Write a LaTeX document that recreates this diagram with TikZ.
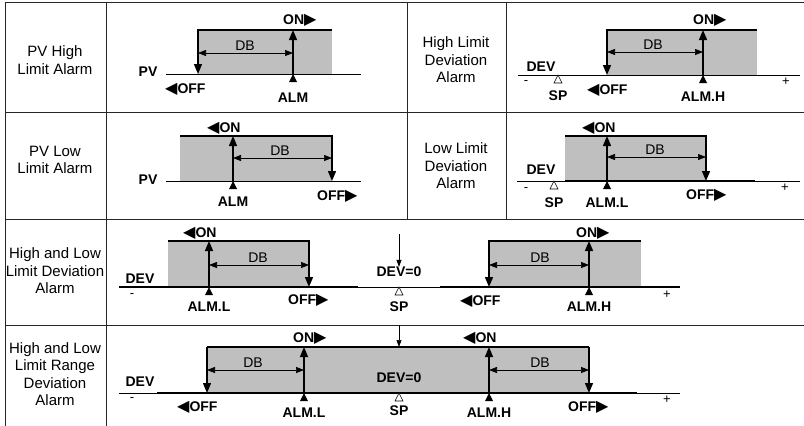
\documentclass[tikz,border=0pt]{standalone}
\usepackage{fontspec}
\setmainfont{Liberation Sans}
\newfontfamily\symfont{DejaVu Sans}
\usetikzlibrary{arrows.meta}
\newcommand\arrR{{\symfont\fontsize{16}{16}\selectfont ▶}}
\newcommand\arrL{{\symfont\fontsize{16}{16}\selectfont ◀}}

\begin{document}
\begin{tikzpicture}[x=1pt,y=-1pt,
  grid/.style={line width=0.9pt,black!85},
  axis/.style={line width=0.9pt},
  curve/.style={line width=1.5pt},
  hyst/.style={line width=1.4pt,-{Triangle[length=10pt,width=8pt]}},
  dbarrow/.style={line width=0.7pt,{Triangle[length=8pt,width=6pt]}-{Triangle[length=8pt,width=6pt]}},
  zeroarrow/.style={line width=0.6pt,-{Triangle[length=7pt,width=5pt]}},
  band/.style={fill=black!25},
  almmark/.style={fill=black},
  spmark/.style={draw,fill=white,line width=0.6pt},
  rowlbl/.style={font=\fontsize{15}{17.5}\selectfont,align=center,inner sep=0pt},
  tag/.style={font=\bfseries\fontsize{14}{14}\selectfont,inner sep=0pt},
  dbtxt/.style={font=\fontsize{14}{14}\selectfont,inner sep=0pt},
  sgn/.style={font=\fontsize{13}{13}\selectfont,inner sep=0pt}]
\useasboundingbox (0,0) rectangle (804,426);

% table
\draw[grid] (5,2) -- (804,2);
\draw[grid] (5,112) -- (804,112);
\draw[grid] (5,219) -- (804,219);
\draw[grid] (5,325) -- (804,325);
\draw[grid] (5,2) -- (5,426);
\draw[grid] (106,2) -- (106,426);
\draw[grid] (407,2) -- (407,219);
\draw[grid] (506,2) -- (506,219);

\node[rowlbl] (lblpvh) at (55,60) {PV High\\Limit Alarm};
\node[rowlbl] (lbldevh) at (456,60) {High Limit\\Deviation\\Alarm};
\node[rowlbl] (lblpvl) at (55,160) {PV Low\\Limit Alarm};
\node[rowlbl] (lbldevl) at (456,166) {Low Limit\\Deviation\\Alarm};
\node[rowlbl] (lblhl) at (55,271) {High and Low\\Limit Deviation\\Alarm};
\node[rowlbl] (lblrange) at (55,374) {High and Low\\Limit Range\\Deviation\\Alarm};

% PV high limit
\fill[band] (198,30) rectangle (332,74);
\draw[axis] (166,74) -- (361,74);
\draw[hyst] (332,30) -- (198,30) -- (198,74);
\draw[hyst] (293,74) -- (293,30);
\fill[almmark] (293,74) -- ++(-4,8) -- ++(8,0) -- cycle;
\draw[dbarrow] (198,53) -- (293,53);
\node[dbtxt] (db1) at (245,46) {DB};
\node[tag] (pv1) at (148,72) {PV};
\node[tag,anchor=west] (on1) at (283,20) {ON\arrR};
\node[tag,anchor=west] (off1) at (165,89) {\arrL OFF};
\node[tag] (alm1) at (293,98) {ALM};

% high limit deviation
\fill[band] (607,30) rectangle (757,75);
\draw[axis] (518,75) -- (800,75);
\draw[hyst] (757,30) -- (607,30) -- (607,75);
\draw[hyst] (703,75) -- (703,30);
\fill[almmark] (703,75) -- ++(-4,8) -- ++(8,0) -- cycle;
\draw[spmark] (558,75) -- ++(-4,8) -- ++(8,0) -- cycle;
\draw[dbarrow] (607,52) -- (703,52);
\node[dbtxt] (db2) at (653,45) {DB};
\node[tag] (dev2) at (541,67) {DEV};
\node[sgn] (minus2) at (526,83) {-};
\node[sgn] (plus2) at (786,82) {+};
\node[tag] (sp2) at (558,96) {SP};
\node[tag,anchor=west] (off2) at (587,90) {\arrL OFF};
\node[tag,anchor=west] (on2) at (693,20) {ON\arrR};
\node[tag] (alm2) at (703,97) {ALM.H};

% PV low limit
\fill[band] (180,136) rectangle (332,181);
\draw[axis] (166,181) -- (361,181);
\draw[hyst] (180,136) -- (332,136) -- (332,181);
\draw[hyst] (233,181) -- (233,136);
\fill[almmark] (233,181) -- ++(-4,8) -- ++(8,0) -- cycle;
\draw[dbarrow] (233,158) -- (332,158);
\node[dbtxt] (db3) at (280,151) {DB};
\node[tag] (pv3) at (148,180) {PV};
\node[tag,anchor=west] (on3) at (207,128) {\arrL ON};
\node[tag,anchor=west] (off3) at (317,196) {OFF\arrR};
\node[tag] (alm3) at (233,202) {ALM};

% low limit deviation
\fill[band] (565,136) rectangle (706,181);
\draw[axis] (517,181) -- (800,181);
\draw[curve] (565,181) -- (755,181);
\draw[hyst] (565,136) -- (706,136) -- (706,181);
\draw[hyst] (607,181) -- (607,136);
\fill[almmark] (607,181) -- ++(-4,8) -- ++(8,0) -- cycle;
\draw[spmark] (554,181) -- ++(-4,8) -- ++(8,0) -- cycle;
\draw[dbarrow] (607,157) -- (706,157);
\node[dbtxt] (db4) at (655,150) {DB};
\node[tag] (dev4) at (541,170) {DEV};
\node[sgn] (minus4) at (526,190) {-};
\node[sgn] (plus4) at (785,188) {+};
\node[tag] (sp4) at (554,203) {SP};
\node[tag,anchor=west] (on4) at (582,128) {\arrL ON};
\node[tag,anchor=west] (off4) at (686,195) {OFF\arrR};
\node[tag] (alm4) at (607,203) {ALM.L};

% high and low limit deviation
\fill[band] (168,241) rectangle (309,287);
\fill[band] (489,241) rectangle (641,287);
\draw[axis] (119,287) -- (680,287);
\draw[curve] (119,287) -- (358,287);
\draw[curve] (440,287) -- (680,287);
\draw[hyst] (168,241) -- (309,241) -- (309,287);
\draw[hyst] (209,287) -- (209,241);
\draw[hyst] (641,241) -- (489,241) -- (489,287);
\draw[hyst] (589,287) -- (589,241);
\fill[almmark] (209,287) -- ++(-4,8) -- ++(8,0) -- cycle;
\fill[almmark] (589,287) -- ++(-4,8) -- ++(8,0) -- cycle;
\draw[spmark] (399,287) -- ++(-4,8) -- ++(8,0) -- cycle;
\draw[dbarrow] (209,265) -- (309,265);
\draw[dbarrow] (489,265) -- (589,265);
\node[dbtxt] (db5a) at (258,258) {DB};
\node[dbtxt] (db5b) at (540,258) {DB};
\node[tag] (dev5) at (140,279) {DEV};
\node[sgn] (minus5) at (132,296) {-};
\node[sgn] (plus5) at (667,295) {+};
\coordinate (zero5) at (399,234);
\node[tag] (dz5) at (399,272) {DEV=0};
\draw[zeroarrow] (zero5) -- (dz5.north);
\node[tag] (sp5) at (399,307) {SP};
\node[tag,anchor=west] (on5a) at (183,233) {\arrL ON};
\node[tag,anchor=west] (on5b) at (576,233) {ON\arrR};
\node[tag,anchor=west] (off5a) at (288,300) {OFF\arrR};
\node[tag,anchor=west] (off5b) at (460,301) {\arrL OFF};
\node[tag] (alm5a) at (209,307) {ALM.L};
\node[tag] (alm5b) at (589,307) {ALM.H};

% high and low limit range deviation
\fill[band] (207,347) rectangle (589,393);
\draw[axis] (119,393) -- (680,393);
\draw[curve] (157,393) -- (637,393);
\draw[curve] (207,347) -- (589,347);
\draw[hyst] (207,347) -- (207,393);
\draw[hyst] (589,347) -- (589,393);
\draw[hyst] (304,393) -- (304,347);
\draw[hyst] (489,393) -- (489,347);
\fill[almmark] (304,393) -- ++(-4,8) -- ++(8,0) -- cycle;
\fill[almmark] (489,393) -- ++(-4,8) -- ++(8,0) -- cycle;
\draw[spmark] (399,393) -- ++(-4,8) -- ++(8,0) -- cycle;
\draw[dbarrow] (207,370) -- (304,370);
\draw[dbarrow] (489,370) -- (589,370);
\node[dbtxt] (db6a) at (253,363) {DB};
\node[dbtxt] (db6b) at (540,363) {DB};
\node[tag] (dev6) at (140,382) {DEV};
\node[sgn] (minus6) at (132,400) {-};
\node[sgn] (plus6) at (667,400) {+};
\coordinate (zero6) at (399,325);
\coordinate (top6) at (399,347);
\draw[zeroarrow] (zero6) -- (top6);
\node[tag] (dz6) at (399,378) {DEV=0};
\node[tag] (sp6) at (399,411) {SP};
\node[tag,anchor=west] (on6a) at (293,338) {ON\arrR};
\node[tag,anchor=west] (on6b) at (463,338) {\arrL ON};
\node[tag,anchor=west] (off6a) at (177,407) {\arrL OFF};
\node[tag,anchor=west] (off6b) at (568,407) {OFF\arrR};
\node[tag] (alm6a) at (304,413) {ALM.L};
\node[tag] (alm6b) at (489,413) {ALM.H};
\end{tikzpicture}
\end{document}
